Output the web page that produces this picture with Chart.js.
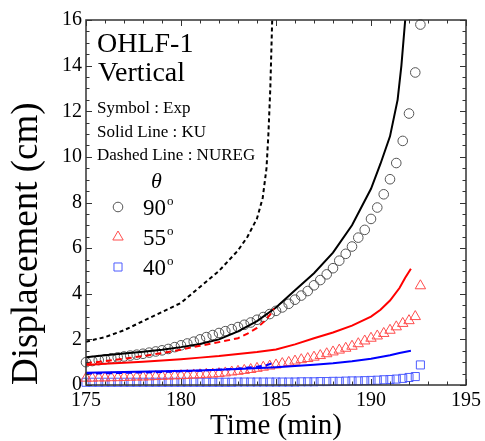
<!DOCTYPE html>
<html><head><meta charset="utf-8">
<script src="https://cdn.jsdelivr.net/npm/chart.js@4"></script>
<style>html,body{margin:0;padding:0;background:#fff;}canvas{display:block;}</style>
</head><body>
<canvas id="c" width="485" height="441"></canvas>
<script>
// ---- Experimental times (min) ----
const expTime = [175.00,175.33,175.67,176.00,176.33,176.67,177.00,177.33,177.67,178.00,
  178.33,178.67,179.00,179.33,179.67,180.00,180.33,180.67,181.00,181.33,
  181.67,182.00,182.33,182.67,183.00,183.33,183.67,184.00,184.33,184.67,
  185.00,185.33,185.67,186.00,186.33,186.67,187.00,187.33,187.67,188.00,
  188.33,188.67,189.00,189.33,189.67,190.00,190.33,190.67,191.00,191.33,
  191.67,192.00,192.33,192.60];
// Exp, theta = 90
const exp90 = [1.00,1.05,1.09,1.13,1.17,1.21,1.25,1.29,1.33,1.37,
  1.42,1.47,1.52,1.58,1.66,1.74,1.82,1.90,2.00,2.10,
  2.19,2.28,2.36,2.45,2.54,2.64,2.74,2.86,2.98,3.11,
  3.25,3.40,3.56,3.74,3.92,4.12,4.37,4.60,4.85,5.12,
  5.45,5.75,6.07,6.46,6.80,7.28,7.78,8.36,9.02,9.73,
  10.70,11.90,13.70,15.80];
// Exp, theta = 55
const exp55 = [0.30,0.30,0.31,0.31,0.32,0.32,0.33,0.34,0.35,0.35,
  0.36,0.37,0.38,0.39,0.40,0.41,0.42,0.44,0.45,0.47,
  0.48,0.50,0.53,0.57,0.60,0.64,0.68,0.73,0.78,0.83,
  0.88,0.94,0.99,1.05,1.11,1.16,1.22,1.29,1.37,1.45,
  1.53,1.61,1.70,1.81,1.93,2.05,2.15,2.26,2.40,2.55,
  2.70,2.82,3.00,4.35];
// Exp, theta = 40
const exp40 = [0.12,0.12,0.12,0.12,0.12,0.12,0.12,0.12,0.12,0.12,
  0.12,0.12,0.12,0.12,0.12,0.12,0.12,0.12,0.12,0.12,
  0.12,0.12,0.12,0.12,0.13,0.13,0.13,0.13,0.13,0.13,
  0.13,0.13,0.13,0.13,0.14,0.14,0.14,0.15,0.15,0.16,
  0.16,0.17,0.18,0.18,0.19,0.20,0.21,0.23,0.24,0.26,
  0.29,0.33,0.37,0.88];

// KU (solid lines)
const kuTime90 = [175,176,177,178,179,180,181,182,183,184,185,186,187,188,189,190,190.5,191,191.4,191.6,191.8];
const ku90     = [1.22,1.30,1.38,1.46,1.55,1.66,1.80,2.00,2.35,2.80,3.40,4.15,4.90,5.80,7.00,8.60,9.70,10.90,12.50,14.00,16.00];
const kuTime55 = [175,176,177,178,179,180,181,182,183,184,185,186,187,188,189,190,190.5,191,191.5,191.8,192.1];
const ku55     = [0.88,0.93,0.97,1.02,1.07,1.13,1.20,1.27,1.36,1.45,1.56,1.78,2.05,2.30,2.60,3.00,3.30,3.70,4.25,4.70,5.10];
const kuTime40 = [175,177,179,181,183,185,186,187,188,189,190,191,191.5,192.1];
const ku40     = [0.54,0.57,0.60,0.64,0.70,0.78,0.83,0.89,0.95,1.04,1.15,1.30,1.40,1.50];

// NUREG (dashed lines)
const nuTime90 = [175,176,177,178,179,180,181,182,183,183.5,184,184.3,184.5,184.6,184.7,184.75,184.8];
const nu90     = [1.90,2.10,2.40,2.80,3.20,3.60,4.30,5.00,5.90,6.50,7.30,8.20,9.50,11.00,13.00,14.50,16.00];
const nuTime55 = [175,176,177,178,179,180,181,182,183,183.5,184,184.4,184.7,184.9];
const nu55     = [0.95,1.05,1.15,1.27,1.40,1.55,1.72,1.88,2.05,2.25,2.50,2.80,3.10,3.35];
const nuTime40 = [175,177,179,181,182,183,184,184.5,184.8];
const nu40     = [0.50,0.53,0.57,0.63,0.67,0.72,0.80,0.87,0.95];

// Axis ticks
const xTicks = [175,180,185,190,195];
const yTicks = [0,2,4,6,8,10,12,14,16];

const pts = (xs, ys) => xs.map((x, i) => ({x: x, y: ys[i]}));
const SERIF = "'Liberation Serif','DejaVu Serif',serif";

function lineDs(xs, ys, color, dash) {
  return {type:'scatter', data: pts(xs, ys), showLine:true, borderColor:color, borderWidth:2,
    borderDash: dash || [], pointRadius:0, fill:false, tension:0, order:1};
}
function markDs(xs, ys, color, style, r) {
  return {type:'scatter', data: pts(xs, ys), showLine:false, pointStyle:style, pointRadius:r,
    pointBorderColor:color, pointBackgroundColor:'rgba(0,0,0,0)', pointBorderWidth:1, clip:false, order:2};
}

const framePlugin = {
  id:'frame',
  afterDatasetsDraw(chart) {
    const ctx = chart.ctx, a = chart.chartArea, xs = chart.scales.x, ys = chart.scales.y;
    ctx.save();
    ctx.strokeStyle = '#333'; ctx.lineWidth = 1.5;
    ctx.strokeRect(a.left, a.top, a.right - a.left, a.bottom - a.top);
    ctx.lineWidth = 1;
    for (let v = 175; v <= 195; v += 1) {
      const p = Math.round(xs.getPixelForValue(v)) + 0.5;
      const L = (v % 5 === 0) ? 6 : 3.5;
      ctx.beginPath(); ctx.moveTo(p, a.bottom); ctx.lineTo(p, a.bottom - L);
      ctx.moveTo(p, a.top); ctx.lineTo(p, a.top + L); ctx.stroke();
    }
    for (let v = 0; v <= 16; v += 0.5) {
      const p = Math.round(ys.getPixelForValue(v)) + 0.5;
      const L = (v % 2 === 0) ? 6 : 3.5;
      ctx.beginPath(); ctx.moveTo(a.left, p); ctx.lineTo(a.left + L, p);
      ctx.moveTo(a.right, p); ctx.lineTo(a.right - L, p); ctx.stroke();
    }
    ctx.restore();
  },
  afterDraw(chart) {
    const ctx = chart.ctx;
    ctx.save();
    ctx.fillStyle = '#000'; ctx.textBaseline = 'alphabetic'; ctx.textAlign = 'left';
    ctx.font = '28px ' + SERIF;
    ctx.fillText('OHLF-1', 97, 52);
    ctx.fillText('Vertical', 98, 81);
    ctx.font = '17px ' + SERIF;
    ctx.fillText('Symbol : Exp', 97, 113);
    ctx.fillText('Solid Line : KU', 97, 137);
    ctx.fillText('Dashed Line : NUREG', 97, 160);
    ctx.font = 'italic 22px ' + SERIF;
    ctx.fillText('\u03B8', 151, 188);
    const items = [['90', '#555', 'circle', 4.8, 207], ['55', '#ff4d4d', 'triangle', 6, 237], ['40', '#4d5cff', 'rect', 5.7, 267]];
    items.forEach(([lab, col, st, r, y]) => {
      ctx.strokeStyle = col; ctx.fillStyle = 'rgba(0,0,0,0)'; ctx.lineWidth = 1;
      Chart.helpers.drawPoint(ctx, {pointStyle: st, radius: r, borderWidth: 1}, 118, y);
      ctx.fillStyle = '#000';
      ctx.font = '23px ' + SERIF;
      ctx.fillText(lab, 143, y + 8);
      const w = ctx.measureText(lab).width;
      ctx.font = '13px ' + SERIF;
      ctx.fillText('o', 143 + w + 1, y - 2);
    });
    ctx.restore();
  }
};

new Chart(document.getElementById('c'), {
  type: 'scatter',
  data: { datasets: [
    lineDs(nuTime90, nu90, '#000', [4, 3]),
    lineDs(nuTime55, nu55, '#ff0000', [6, 4]),
    lineDs(nuTime40, nu40, '#0000ff', [6, 4]),
    lineDs(kuTime90, ku90, '#000'),
    lineDs(kuTime55, ku55, '#ff0000'),
    lineDs(kuTime40, ku40, '#0000ff'),
    markDs(expTime, exp90, '#555', 'circle', 4.8),
    markDs(expTime, exp55, '#ff4d4d', 'triangle', 6),
    markDs(expTime, exp40, '#4d5cff', 'rect', 5.7)
  ]},
  options: {
    responsive: false, animation: false, devicePixelRatio: 1,
    layout: { padding: { top: 20, right: 9, left: 0, bottom: 0 } },
    plugins: { legend: { display: false }, tooltip: { enabled: false } },
    scales: {
      x: { type: 'linear', min: 175, max: 195,
        afterBuildTicks: s => { s.ticks = xTicks.map(v => ({value: v})); },
        afterFit: s => { s.height = 56; },
        ticks: { font: { family: SERIF, size: 20 }, color: '#000', padding: 4, maxRotation: 0 },
        grid: { display: false, drawTicks: false }, border: { display: false },
        title: { display: true, text: 'Time (min)', font: { family: SERIF, size: 29, lineHeight: 1.0 }, color: '#000', padding: { top: 0, bottom: 0 } } },
      y: { type: 'linear', min: 0, max: 16,
        afterBuildTicks: s => { s.ticks = yTicks.map(v => ({value: v})); },
        afterFit: s => { s.width = 86; },
        ticks: { font: { family: SERIF, size: 20 }, color: '#000', padding: 4 },
        grid: { display: false, drawTicks: false }, border: { display: false },
        title: { display: true, align: 'start', text: 'Displacement (cm)', font: { family: SERIF, size: 37, lineHeight: 1.0 }, color: '#000', padding: { top: 9, bottom: 0 } } }
    }
  },
  plugins: [framePlugin]
});
</script>
</body></html>
